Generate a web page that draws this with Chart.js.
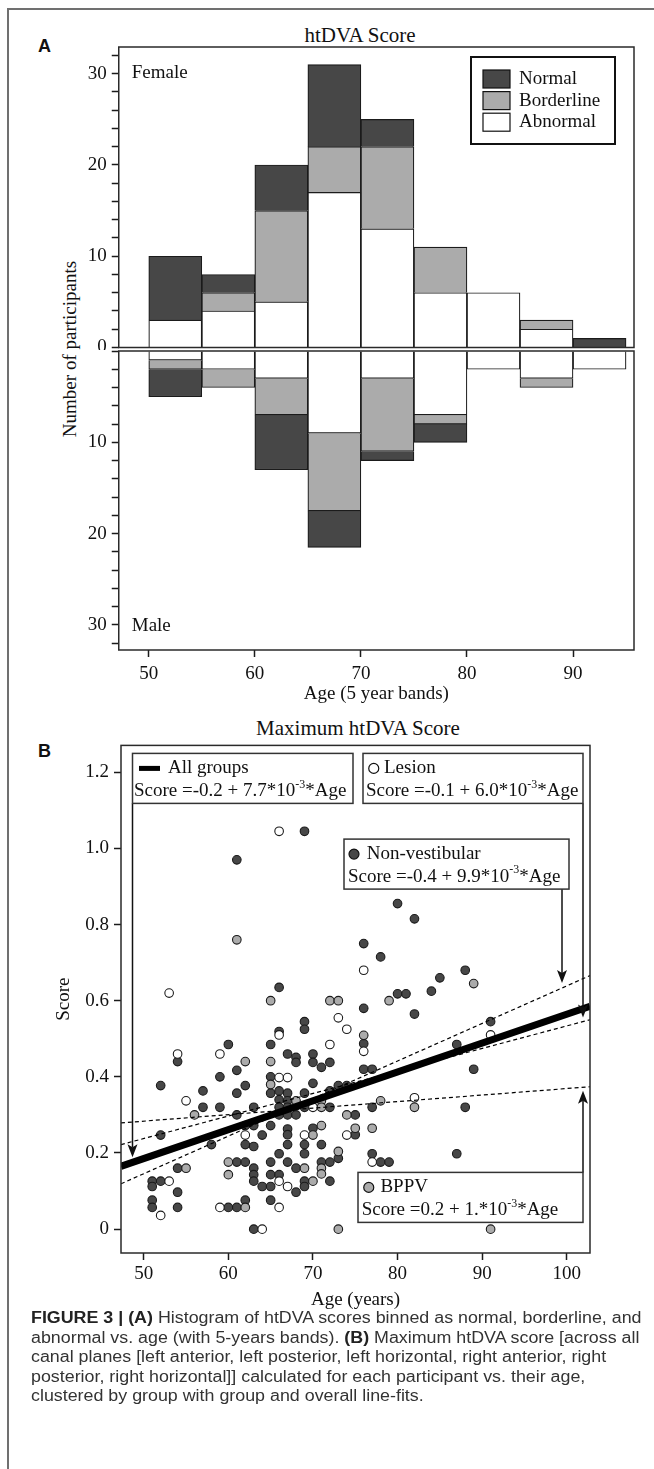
<!DOCTYPE html>
<html>
<head>
<meta charset="utf-8">
<title>htDVA Score</title>
<script src="https://cdn.jsdelivr.net/npm/chart.js@4.4.1/dist/chart.umd.min.js"></script>
<style>
  html, body { margin: 0; padding: 0; background: #fff; }
  body { position: relative; width: 654px; height: 1469px; overflow: hidden; font-family: 'Liberation Serif', 'Times New Roman', serif; color: #111; }
  .frame { position: absolute; left: 7px; top: 8px; width: 700px; height: 1500px; border-left: 2px solid #707070; border-top: 2px solid #707070; }
  canvas { position: absolute; left: 0; }
  .letter { position: absolute; font: bold 18px 'Liberation Sans', Arial, sans-serif; line-height: 20px; }
  .title { position: absolute; width: 300px; text-align: center; font-size: 21px; line-height: 24px; white-space: nowrap; }
  .ylab { position: absolute; width: 240px; height: 24px; line-height: 24px; text-align: center; font-size: 19px; transform: rotate(-90deg); white-space: nowrap; }
  .caption { position: absolute; left: 31px; top: 1308px; font: 16px 'Liberation Sans', Arial, sans-serif; line-height: 19.6px; color: #333; white-space: nowrap; transform: scaleX(1.115); transform-origin: left top; }
  .caption b { color: #222; }
</style>
</head>
<body>
<div class="frame"></div>

<div class="letter" style="left:38px; top:36px;">A</div>
<div class="title" style="left:210px; top:23px;">htDVA Score</div>
<div class="ylab" style="left:-50px; top:337px;">Number of participants</div>
<canvas id="histF" width="654" height="310" style="top:40px;"></canvas>
<canvas id="histM" width="654" height="355" style="top:350px;"></canvas>

<div class="letter" style="left:38px; top:741px;">B</div>
<div class="title" style="left:208px; top:716px;">Maximum htDVA Score</div>
<canvas id="scatter" width="654" height="571" style="top:740px;"></canvas>

<div class="caption">
  <b>FIGURE 3 | (A)</b> Histogram of htDVA scores binned as normal, borderline, and<br>
  abnormal vs. age (with 5-years bands). <b>(B)</b> Maximum htDVA score [across all<br>
  canal planes [left anterior, left posterior, left horizontal, right anterior, right<br>
  posterior, right horizontal]] calculated for each participant vs. their age,<br>
  clustered by group with group and overall line-fits.
</div>

<script>
// ---- Panel A: counts per 5 year band ----
const bandCenters = [52.5, 57.5, 62.5, 67.5, 72.5, 77.5, 82.5, 87.5, 92.5];
const femaleAbnormal   = [3, 4, 5, 17, 13, 6, 6, 2, 0];
const femaleBorderline = [0, 2, 10, 5, 9, 5, 0, 1, 0];
const femaleNormal     = [7, 2, 5, 9, 3, 0, 0, 0, 1];
const maleAbnormal     = [1, 2, 3, 9, 3, 7, 2, 3, 2];
const maleBorderline   = [1, 2, 4, 8.5, 8, 1, 0, 1, 0];
const maleNormal       = [3, 0, 6, 4, 1, 2, 0, 0, 0];
const countTicks = [0, 2, 4, 6, 8, 10, 12, 14, 16, 18, 20, 22, 24, 26, 28, 30, 32];
const bandTicks = [50, 60, 70, 80, 90];

// ---- Panel B: max score vs age, per group ----
const lesionAge   = [53, 66, 76, 73, 74, 66, 76, 72, 91, 54, 59, 66, 67, 55, 82, 70, 62, 69, 74, 77, 66, 53, 67, 52, 59, 66, 64];
const lesionScore = [0.62, 1.045, 0.68, 0.555, 0.525, 0.51, 0.467, 0.485, 0.51, 0.46, 0.46, 0.398, 0.398, 0.337, 0.345, 0.32, 0.247, 0.247, 0.247, 0.176, 0.126, 0.126, 0.112, 0.036, 0.057, 0.057, 0];

const bppvAge   = [61, 65, 72, 73, 79, 89, 76, 62, 65, 65, 68, 71, 78, 82, 56, 71, 74, 71, 75, 77, 70, 73, 55, 60, 69, 71, 71, 60, 70, 62, 73, 91];
const bppvScore = [0.76, 0.60, 0.60, 0.60, 0.60, 0.645, 0.509, 0.44, 0.44, 0.38, 0.337, 0.337, 0.337, 0.32, 0.30, 0.32, 0.30, 0.272, 0.265, 0.265, 0.247, 0.204, 0.16, 0.176, 0.16, 0.16, 0.145, 0.143, 0.126, 0.057, 0, 0];

const nonVestAge = [61, 69, 66, 80, 82, 76, 78, 88, 85, 84, 80, 81,
  76, 82, 69, 69, 66, 76, 60, 65, 91, 87,
  54, 67, 68, 68, 70, 70, 71, 72, 76, 77, 89, 61,
  59, 52, 62, 65, 70, 57, 61, 65, 66, 67, 66, 67, 69, 72, 73, 74,
  88, 57, 59, 63, 61, 66, 67, 66, 67, 68, 69, 72, 75, 77,
  62, 63, 65, 67, 67, 70, 75, 52, 64,
  58, 62, 63, 67, 69, 71, 66, 69, 73, 77, 87,
  54, 61, 62, 65, 67, 68, 71, 72, 78, 79,
  63, 63, 63, 65, 66, 69, 69, 72, 51, 52, 51, 54, 64, 65, 68, 51, 51, 54, 60, 61, 62, 65, 63];
const nonVestScore = [0.97, 1.045, 0.635, 0.855, 0.815, 0.75, 0.715, 0.68, 0.66, 0.625, 0.618, 0.618,
  0.58, 0.565, 0.545, 0.525, 0.519, 0.487, 0.485, 0.485, 0.545, 0.485,
  0.44, 0.46, 0.451, 0.438, 0.46, 0.438, 0.425, 0.438, 0.42, 0.42, 0.42, 0.417,
  0.40, 0.377, 0.377, 0.40, 0.383, 0.363, 0.357, 0.357, 0.363, 0.357, 0.34, 0.337, 0.357, 0.363, 0.377, 0.377,
  0.32, 0.32, 0.32, 0.32, 0.30, 0.32, 0.32, 0.30, 0.30, 0.30, 0.32, 0.32, 0.30, 0.32,
  0.272, 0.272, 0.272, 0.263, 0.248, 0.265, 0.248, 0.247, 0.247,
  0.222, 0.222, 0.217, 0.222, 0.222, 0.222, 0.198, 0.198, 0.186, 0.198, 0.198,
  0.16, 0.176, 0.176, 0.176, 0.176, 0.16, 0.176, 0.176, 0.176, 0.176,
  0.16, 0.143, 0.126, 0.143, 0.143, 0.126, 0.112, 0.126, 0.126, 0.126, 0.112, 0.097, 0.112, 0.112, 0.097, 0.076, 0.057, 0.057, 0.057, 0.057, 0.076, 0.076, 0];

// fitted lines, value at left and right edge of the age axis
const fitAge     = [47.3, 102.75];
const fitAll     = [0.165, 0.585];
const fitLesion  = [0.222, 0.55];
const fitNonVest = [0.119, 0.666];
const fitBppv    = [0.279, 0.374];

const scoreTicks = [0, 0.2, 0.4, 0.6, 0.8, 1.0, 1.2];
const ageTicks = [50, 60, 70, 80, 90, 100];

const SERIF = "'Liberation Serif', 'Times New Roman', serif";
Chart.defaults.font.family = SERIF;
Chart.defaults.font.size = 19;
Chart.defaults.color = '#111';

const INK = '#1b1b1b';
const DARK = '#474747';
const GREY = '#ababab';

// keep the plot area where we put it: no extra room for half tick labels
const noLabelPad = s => { s.paddingTop = 0; s.paddingBottom = 0; s.paddingLeft = 0; s.paddingRight = 0; };

// box around the plotting area
const framePlugin = {
  id: 'frame',
  afterDraw(chart) {
    const { ctx, chartArea: a } = chart;
    ctx.save();
    ctx.strokeStyle = '#2a2a2a';
    ctx.lineWidth = 1.5;
    ctx.strokeRect(a.left, a.top, a.right - a.left, a.bottom - a.top);
    ctx.restore();
  }
};

// "Female" / "Male" tag and the grey-scale legend box of panel A
const histDecor = {
  id: 'histDecor',
  afterDraw(chart, args, opts) {
    const { ctx, chartArea: a } = chart;
    ctx.save();
    ctx.font = '19px ' + SERIF;
    ctx.fillStyle = '#111';
    ctx.textBaseline = 'middle';
    ctx.fillText(opts.tag, a.left + 13, opts.tagAtTop ? a.top + 26 : a.bottom - 24);
    if (opts.legend) {
      const x0 = a.right - 163, y0 = a.top + 10;
      ctx.fillStyle = '#fff';
      ctx.fillRect(x0, y0, 144, 87);
      ctx.strokeStyle = '#111';
      ctx.lineWidth = 2;
      ctx.strokeRect(x0, y0, 144, 87);
      chart.data.datasets.slice().reverse().forEach((d, i) => {
        const y = y0 + 13 + i * 21.6;
        ctx.fillStyle = d.backgroundColor;
        ctx.fillRect(x0 + 12, y, 27, 18);
        ctx.lineWidth = 1.2;
        ctx.strokeRect(x0 + 12, y, 27, 18);
        ctx.fillStyle = '#111';
        ctx.fillText(d.label, x0 + 48, y + 9);
      });
    }
    ctx.restore();
  }
};

function histChart(id, abnormal, borderline, normal, male) {
  const band = (label, vals, color) => ({
    label,
    data: bandCenters.map((x, i) => ({ x, y: vals[i] })),
    backgroundColor: color,
    borderColor: INK,
    borderWidth: 1.2,
    barPercentage: 1,
    categoryPercentage: 1
  });
  return new Chart(document.getElementById(id), {
    type: 'bar',
    data: {
      datasets: [
        band('Abnormal', abnormal, '#ffffff'),
        band('Borderline', borderline, GREY),
        band('Normal', normal, DARK)
      ]
    },
    options: {
      responsive: false,
      animation: false,
      events: [],
      layout: { padding: male ? { top: 1, right: 20, left: 0, bottom: 0 } : { top: 7, right: 20, left: 0, bottom: 2.5 } },
      plugins: {
        legend: { display: false },
        tooltip: { enabled: false },
        histDecor: { tag: male ? 'Male' : 'Female', tagAtTop: !male, legend: !male }
      },
      scales: {
        x: {
          type: 'linear',
          stacked: true,
          offset: false,
          min: 47.17,
          max: 95.75,
          display: male,
          afterBuildTicks: s => { s.ticks = bandTicks.map(v => ({ value: v })); },
          afterFit: s => { noLabelPad(s); s.height = male ? 55 : 0; },
          grid: { offset: false, drawOnChartArea: false, tickLength: 7, tickColor: INK, tickWidth: 1.5 },
          border: { display: false },
          ticks: { padding: 6, maxRotation: 0, autoSkip: false },
          title: { display: true, text: 'Age (5 year bands)', font: { size: 19 }, padding: { top: 0, bottom: 0 } }
        },
        y: {
          stacked: true,
          reverse: male,
          min: 0,
          max: male ? 32.74 : 32.93,
          afterBuildTicks: s => { s.ticks = countTicks.map(v => ({ value: v })); },
          afterFit: s => { noLabelPad(s); s.width = 118.75; },
          grid: { drawOnChartArea: false, tickLength: 7, tickColor: INK, tickWidth: 1.5 },
          border: { display: false },
          ticks: {
            padding: 5,
            autoSkip: false,
            callback: v => (v % 10 === 0 && !(male && v === 0)) ? String(v) : ''
          }
        }
      }
    },
    plugins: [framePlugin, histDecor]
  });
}

histChart('histF', femaleAbnormal, femaleBorderline, femaleNormal, false);
histChart('histM', maleAbnormal, maleBorderline, maleNormal, true);

// ---- Panel B ----
const fitNotes = [
  { dx: 11.5, dy: 8,   w: 220.5, mark: 'bar',   name: 'All groups',     eq: ['Score =-0.2 + 7.7*10', '-3', '*Age'], markX: 6.5,   nameX: 35.5, eqX: 1.5, arrowX: 0,   fit: fitAll,     dir: 1,  gap: 5 },
  { dx: 242,  dy: 8,   w: 220,   mark: '#ffffff', name: 'Lesion',       eq: ['Score =-0.1 + 6.0*10', '-3', '*Age'], markX: 10.75, nameX: 21,   eqX: 3,   arrowX: 220, fit: fitLesion,  dir: 1,  gap: 4 },
  { dx: 223,  dy: 93.7, w: 225,  mark: DARK,      name: 'Non-vestibular', eq: ['Score =-0.4 + 9.9*10', '-3', '*Age'], markX: 10, nameX: 22.7, eqX: 4,   arrowX: 218, fit: fitNonVest, dir: 1,  gap: 5 },
  { dx: 237,  dy: 427, w: 225,   mark: GREY,      name: 'BPPV',         eq: ['Score =0.2 + 1.*10', '-3', '*Age'],   markX: 10.75, nameX: 22.4, eqX: 3.7, arrowX: 225, fit: fitBppv,    dir: -1, gap: 3.5 }
];

const fitNotesPlugin = {
  id: 'fitNotes',
  afterDatasetsDraw(chart) {
    const { ctx, chartArea: a, scales: { x, y } } = chart;
    ctx.save();
    fitNotes.forEach(n => {
      const bx = a.left + n.dx, by = a.top + n.dy, h = 50;
      // arrow from the box to its fitted line
      const ax = bx + n.arrowX;
      const age = x.getValueForPixel(ax);
      const val = n.fit[0] + (n.fit[1] - n.fit[0]) * (age - fitAge[0]) / (fitAge[1] - fitAge[0]);
      const tip = y.getPixelForValue(val) - n.dir * n.gap;
      const start = n.dir > 0 ? by + h : by;
      ctx.strokeStyle = '#111';
      ctx.fillStyle = '#111';
      ctx.lineWidth = 1.5;
      ctx.beginPath();
      ctx.moveTo(ax, start);
      ctx.lineTo(ax, tip - n.dir * 10);
      ctx.stroke();
      ctx.beginPath();
      ctx.moveTo(ax, tip);
      ctx.lineTo(ax - 5, tip - n.dir * 13);
      ctx.lineTo(ax, tip - n.dir * 10);
      ctx.lineTo(ax + 5, tip - n.dir * 13);
      ctx.closePath();
      ctx.fill();

      // the box
      ctx.fillStyle = '#fff';
      ctx.fillRect(bx, by, n.w, h);
      ctx.strokeStyle = '#333';
      ctx.lineWidth = 1.5;
      ctx.strokeRect(bx, by, n.w, h);

      // marker
      const ly = by + 15;
      if (n.mark === 'bar') {
        ctx.fillStyle = '#000';
        ctx.fillRect(bx + n.markX, ly - 2.5, 21, 5);
      } else {
        ctx.beginPath();
        ctx.arc(bx + n.markX, ly, 5, 0, Math.PI * 2);
        ctx.fillStyle = n.mark;
        ctx.fill();
        ctx.lineWidth = 1.2;
        ctx.strokeStyle = '#111';
        ctx.stroke();
      }
      ctx.fillStyle = '#111';
      ctx.textBaseline = 'middle';
      ctx.font = '19px ' + SERIF;
      ctx.fillText(n.name, bx + n.nameX, ly);

      // equation with a superscript exponent
      const ey = by + 38;
      let ex = bx + n.eqX;
      ctx.fillText(n.eq[0], ex, ey);
      ex += ctx.measureText(n.eq[0]).width;
      ctx.font = '12px ' + SERIF;
      ctx.fillText(n.eq[1], ex, ey - 7);
      ex += ctx.measureText(n.eq[1]).width;
      ctx.font = '19px ' + SERIF;
      ctx.fillText(n.eq[2], ex, ey);
    });
    ctx.restore();
  }
};

const toPoints = (xs, ys) => xs.map((v, i) => ({ x: v, y: ys[i] }));

const group = (label, ages, scores, color) => ({
  label,
  data: toPoints(ages, scores),
  backgroundColor: color,
  borderColor: INK,
  borderWidth: 1.1,
  pointRadius: 4.3,
  order: 2
});

const fitLine = (label, vals, width, dash) => ({
  label,
  data: toPoints(fitAge, vals),
  showLine: true,
  borderColor: '#000',
  backgroundColor: '#000',
  borderWidth: width,
  borderDash: dash,
  pointRadius: 0,
  order: 1
});

new Chart(document.getElementById('scatter'), {
  type: 'scatter',
  data: {
    datasets: [
      fitLine('All groups', fitAll, 7, []),
      fitLine('Lesion fit', fitLesion, 1.2, [4, 3]),
      fitLine('Non-vestibular fit', fitNonVest, 1.2, [4, 3]),
      fitLine('BPPV fit', fitBppv, 1.2, [4, 3]),
      group('Lesion', lesionAge, lesionScore, '#ffffff'),
      group('BPPV', bppvAge, bppvScore, GREY),
      group('Non-vestibular', nonVestAge, nonVestScore, DARK)
    ]
  },
  options: {
    responsive: false,
    animation: false,
    events: [],
    layout: { padding: { top: 3, right: 64, left: 0, bottom: 0 } },
    plugins: { legend: { display: false }, tooltip: { enabled: false } },
    scales: {
      x: {
        type: 'linear',
        min: 47.31,
        max: 102.75,
        afterBuildTicks: s => { s.ticks = ageTicks.map(v => ({ value: v })); },
        afterFit: s => { noLabelPad(s); s.height = 58; },
        grid: { drawOnChartArea: false, tickLength: 7, tickColor: INK, tickWidth: 1.5 },
        border: { display: false },
        ticks: { padding: 3, maxRotation: 0, autoSkip: false },
        title: { display: true, text: 'Age (years)', font: { size: 19 }, padding: { top: 0, bottom: 0 } }
      },
      y: {
        type: 'linear',
        min: -0.0627,
        max: 1.2706,
        afterBuildTicks: s => { s.ticks = scoreTicks.map(v => ({ value: v })); },
        afterFit: s => { noLabelPad(s); s.width = 121; },
        grid: { drawOnChartArea: false, tickLength: 7, tickColor: INK, tickWidth: 1.5 },
        border: { display: false },
        ticks: { padding: 5, autoSkip: false, callback: v => v === 0 ? '0' : v.toFixed(1) },
        title: { display: true, text: 'Score', font: { size: 19 }, padding: { top: 53, bottom: 0 } }
      }
    }
  },
  plugins: [framePlugin, fitNotesPlugin]
});
</script>
</body>
</html>
